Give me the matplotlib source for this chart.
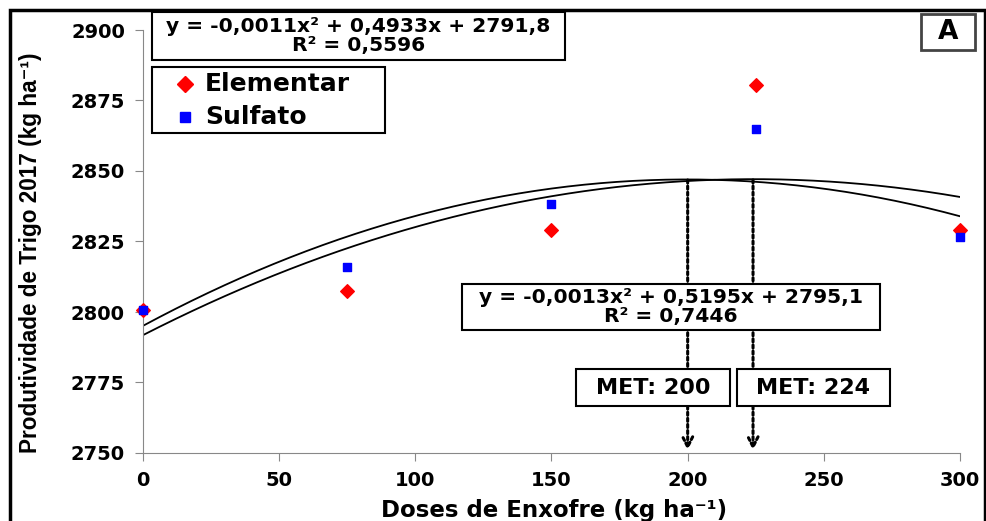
import numpy as np
import matplotlib.pyplot as plt
from matplotlib.patches import Rectangle
from matplotlib.lines import Line2D

plt.rcParams['font.family'] = ['DejaVu Sans']
plt.rcParams['font.weight'] = 'bold'

doses = [0, 75, 150, 225, 300]
elementar = [2800.8, 2807.5, 2829.0, 2880.5, 2829.2]
sulfato = [2800.8, 2815.8, 2838.2, 2864.8, 2826.5]

coef_el = [-0.0011, 0.4933, 2791.8]
coef_su = [-0.0013, 0.5195, 2795.1]
eq_el = 'y = -0,0011x² + 0,4933x + 2791,8\nR² = 0,5596'
eq_su = 'y = -0,0013x² + 0,5195x + 2795,1\nR² = 0,7446'
met = [200, 224]
series_names = ['Elementar', 'Sulfato']

W, H = 987, 521
fig = plt.figure(figsize=(9.87, 5.21), dpi=100)
ax = fig.add_axes([143 / W, 1 - 453 / H, (960 - 143) / W, (453 - 30) / H])


def px_box(x0, y0, x1, y1, text=None, size=14, ec='black', lw=1.5):
    # box + centered text, in picture pixels from top-left
    fig.patches.append(Rectangle((x0 / W, 1 - y1 / H), (x1 - x0) / W, (y1 - y0) / H,
                                 transform=fig.transFigure, fc='white', ec=ec, lw=lw, zorder=5))
    if text:
        fig.text((x0 + x1) / 2 / W, 1 - (y0 + y1) / 2 / H, text, fontsize=size, ha='center',
                 va='center', ma='center', linespacing=0.95, zorder=6)


xs = np.linspace(0, 300, 301)
ax.plot(xs, np.polyval(coef_el, xs), color='black', lw=1.3)
ax.plot(xs, np.polyval(coef_su, xs), color='black', lw=1.3)

ax.scatter(doses, elementar, marker='D', s=48, color='red', zorder=3, clip_on=False)
ax.scatter(doses, sulfato, marker='s', s=34, color='blue', zorder=4, clip_on=False)

for m in met:
    ax.annotate('', xy=(m, 2750), xytext=(m, 2847.8),
                arrowprops=dict(arrowstyle='->', linestyle=(0, (1, 1)), lw=2.2,
                                color='black', mutation_scale=18))

ax.set_xlim(0, 300)
ax.set_ylim(2750, 2900)
ax.set_xticks(range(0, 301, 50))
ax.set_yticks(range(2750, 2901, 25))
for s in ['top', 'right']:
    ax.spines[s].set_visible(False)
for s in ['left', 'bottom']:
    ax.spines[s].set_color('#888888')
ax.tick_params(colors='#888888', length=6, labelcolor='black', labelsize=14, pad=7)

fig.text(554 / W, 1 - 510 / H, 'Doses de Enxofre (kg ha⁻¹)', fontsize=16.5,
         ha='center', va='center')
fig.text(31 / W, 1 - 253 / H, 'Produtividade de Trigo 2017 (kg ha⁻¹)', fontsize=16.3,
         rotation=90, ha='center', va='center', family=['Liberation Sans', 'DejaVu Sans'])

px_box(152, 12, 565, 60, eq_el, 14.6)
px_box(462, 284, 880, 330, eq_su, 14.6)
px_box(576, 369, 730, 406, 'MET: 200', 16)
px_box(737, 369, 890, 406, 'MET: 224', 16)
px_box(921, 14, 975, 50, 'A', 19, ec='#444444', lw=2)

# legend drawn by hand to fit the box of the reference
px_box(152, 67, 385, 133)
for name, mk, ms, col, yy in zip(series_names, ['D', 's'], [8, 7], ['red', 'blue'], [84, 117]):
    fig.add_artist(Line2D([185 / W], [1 - yy / H], marker=mk, ms=ms, color=col, ls='none',
                          transform=fig.transFigure, zorder=7))
    fig.text(205 / W, 1 - yy / H, name, fontsize=18, ha='left', va='center', zorder=7)

fig.patches.append(Rectangle((10 / W, -0.1), 975 / W, 1 - 10 / H + 0.1,
                             transform=fig.transFigure, fill=False, ec='black', lw=2.5))

fig.savefig('out.png', dpi=100)
